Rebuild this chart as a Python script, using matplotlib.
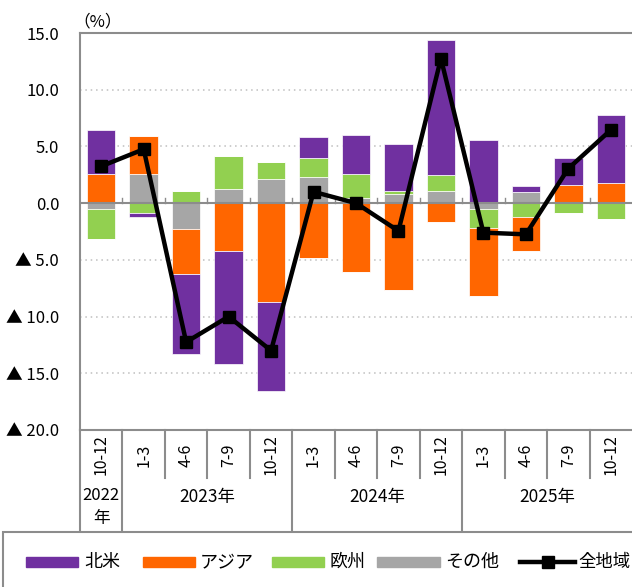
import numpy as np
import matplotlib.pyplot as plt
from matplotlib.patches import Rectangle
from matplotlib.lines import Line2D
from matplotlib.transforms import blended_transform_factory

plt.rcParams['font.family'] = ['Noto Sans CJK JP', 'DejaVu Sans']

# data (percent contribution by region)
quarters = ['10-12', '1-3', '4-6', '7-9', '10-12', '1-3', '4-6', '7-9', '10-12',
            '1-3', '4-6', '7-9', '10-12']
north_america = [3.85, -0.35, -7.05, -9.95, -7.9, 1.8, 3.4, 4.1, 11.9, 5.6, 0.5, 2.35, 6.0]
asia = [2.6, 3.4, -3.95, -4.2, -8.7, -4.85, -6.1, -7.65, -1.65, -6.05, -3.05, 1.6, 1.75]
europe = [-2.7, -0.85, 1.05, 2.9, 1.45, 1.7, 2.15, 0.3, 1.4, -1.6, -1.2, -0.9, -1.4]
other = [-0.5, 2.55, -2.3, 1.25, 2.15, 2.3, 0.45, 0.8, 1.1, -0.55, 1.0, 0.0, 0.0]
total = [3.25, 4.75, -12.25, -10.0, -13.0, 1.0, 0.0, -2.45, 12.75, -2.6, -2.75, 3.05, 6.45]
years = [('2023年', 1, 4), ('2024年', 5, 8), ('2025年', 9, 12)]

colors = {'北米': '#7030A0', 'アジア': '#FF6600', '欧州': '#92D050', 'その他': '#A6A6A6'}
# stacking order from the zero line outwards
stack = [('その他', other), ('欧州', europe), ('アジア', asia), ('北米', north_america)]

W, H = 632, 587
fig = plt.figure(figsize=(W / 100, H / 100), dpi=100)
ax = fig.add_axes([80 / W, (H - 430) / H, 552 / W, 397 / H])

x = np.arange(len(quarters))
pos_base = np.zeros(len(x))
neg_base = np.zeros(len(x))
for name, vals in stack:
    v = np.array(vals)
    p = np.where(v > 0, v, 0)
    n = np.where(v < 0, v, 0)
    ax.bar(x, p, 0.67, bottom=pos_base, color=colors[name], edgecolor='white',
           linewidth=0.5, zorder=3)
    ax.bar(x, n, 0.67, bottom=neg_base, color=colors[name], edgecolor='white',
           linewidth=0.5, zorder=3)
    pos_base += p
    neg_base += n

ax.plot(x, total, color='black', lw=3.2, marker='s', ms=8, zorder=5)

gray = '#8C8C8C'
ax.set_xlim(-0.5, len(x) - 0.5)
ax.set_ylim(-20, 15)
ax.set_yticks(np.arange(-20, 16, 5))
ax.set_yticklabels([f'{v:.1f}' if v >= 0 else f'▲ {-v:.1f}' for v in np.arange(-20, 16, 5)],
                   fontsize=12)
ax.tick_params(axis='y', length=0, pad=15)
ax.set_xticks([])
for y in [10, 5, -5, -10, -15]:
    ax.axhline(y, color='#BFBFBF', lw=1.1, ls=(0, (1, 2.5)), zorder=1)
ax.axhline(0, color=gray, lw=1.5, zorder=4)
for b in x[:-1] + 0.5:
    ax.plot([b, b], [0, 0.45], color=gray, lw=1, zorder=4)
for s in ['left', 'top', 'bottom']:
    ax.spines[s].set_color(gray)
    ax.spines[s].set_linewidth(1.5)
ax.spines['right'].set_visible(False)

# category table under the axis
tr = blended_transform_factory(ax.transData, fig.transFigure)
def fy(py):
    return (H - py) / H

fig.text(73 / W, fy(22), '（%）', ha='left', va='center', fontsize=12)

for b in x[:-1] + 0.5:
    long_line = b in (0.5, 4.5, 8.5)
    ax.plot([b, b], [fy(430), fy(530 if long_line else 478)], color=gray, lw=1.5,
            transform=tr, clip_on=False)
ax.plot([-0.5, -0.5], [fy(430), fy(530)], color=gray, lw=1.5, transform=tr, clip_on=False)
for i, q in enumerate(quarters):
    ax.text(i, fy(455), q, rotation=90, ha='center', va='center', fontsize=11.5,
            transform=tr)
ax.text(0, fy(496), '2022', ha='center', va='center', fontsize=12, transform=tr)
ax.text(0, fy(519), '年', ha='center', va='center', fontsize=12, transform=tr)
for label, a, b in years:
    ax.text((a + b) / 2, fy(497), label, ha='center', va='center', fontsize=12.5,
            transform=tr)

# legend box
fig.patches.append(Rectangle((3 / W, fy(600)), 700 / W, (600 - 532) / H,
                             transform=fig.transFigure, fill=False, edgecolor=gray,
                             lw=1.5))
ly = fy(562)
items = [('北米', 26, 78, 84), ('アジア', 143, 195, 200), ('欧州', 272, 324, 330),
         ('その他', 377, 440, 445)]
for name, x0, x1, tx in items:
    fig.patches.append(Rectangle((x0 / W, ly - 5 / H), (x1 - x0) / W, 10 / H,
                                 transform=fig.transFigure, color=colors[name]))
    fig.text(tx / W, ly, name, ha='left', va='center', fontsize=13)
fig.lines.append(Line2D([520 / W, 575 / W], [ly, ly], color='black', lw=3.2,
                        transform=fig.transFigure))
fig.lines.append(Line2D([548 / W], [ly], color='black', marker='s', ms=8,
                        transform=fig.transFigure))
fig.text(578 / W, ly, '全地域', ha='left', va='center', fontsize=12.5)

fig.savefig('out.png', dpi=100)
